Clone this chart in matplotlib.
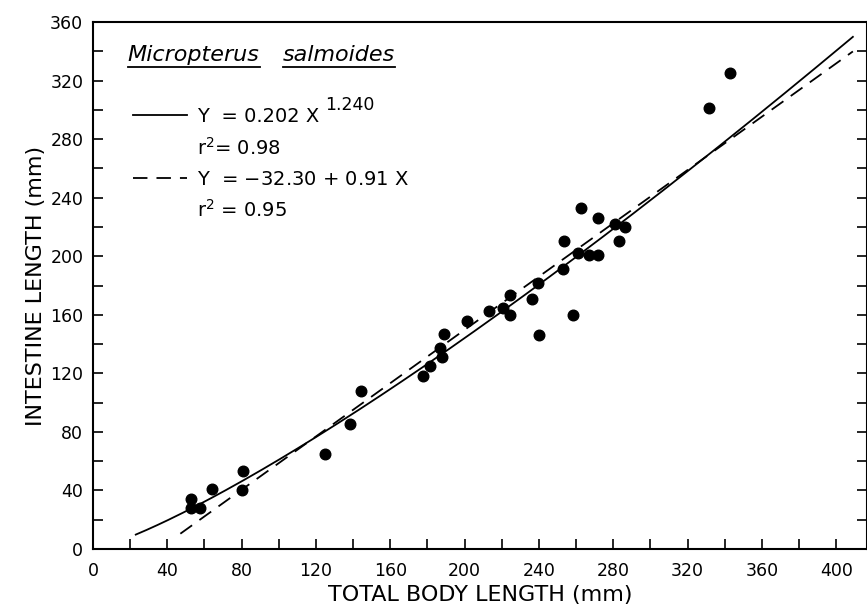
import matplotlib
matplotlib.use("Agg")
import matplotlib.pyplot as plt
from matplotlib.lines import Line2D
import numpy as np

# body length (mm) and intestine length (mm)
body_len = [52.8, 52.8, 57.8, 63.9, 80.0, 80.9, 124.9, 138.3, 144.5,
            177.8, 181.4, 186.8, 187.7, 189.1, 201.1, 213.3, 220.9, 224.2,
            224.5, 236.4, 239.7, 240.0, 252.8, 253.7, 258.5, 260.9, 262.5,
            267.0, 271.6, 271.8, 281.0, 283.3, 286.3, 331.6, 343.0]
gut_len = [34.0, 27.8, 28.2, 40.8, 40.3, 53.3, 64.7, 85.4, 108.0,
           118.0, 125.0, 137.4, 131.0, 146.6, 155.7, 162.6, 164.8, 160.2,
           173.5, 170.8, 181.9, 146.2, 191.0, 210.7, 160.2, 202.4, 233.1,
           200.8, 200.8, 226.3, 222.1, 210.7, 220.2, 301.1, 325.4]

# fitted lines as printed on the figure
pow_a, pow_b = 0.202, 1.240
lin_a, lin_b = -32.30, 0.91
pow_range = [23, 409]
lin_range = [47, 409]

xticks = np.arange(0, 401, 40)
yticks = np.arange(0, 361, 40)

plt.rcParams['font.family'] = 'DejaVu Sans'
plt.rcParams['mathtext.fontset'] = 'dejavusans'

fig = plt.figure(figsize=(8.67, 6.06), dpi=100)
ax = fig.add_axes([0.1073, 0.094, 0.8927, 0.8697])

xs = np.linspace(pow_range[0], pow_range[1], 200)
ax.plot(xs, pow_a * xs ** pow_b, color='black', lw=1.3)
xl = np.array(lin_range)
ax.plot(xl, lin_a + lin_b * xl, color='black', lw=1.3, linestyle=(0, (8, 5)))

ax.scatter(body_len, gut_len, s=58, color='black', zorder=3)

ax.set_xlim(0, 416.6)
ax.set_ylim(0, 360)
ax.set_xticks(xticks)
ax.set_yticks(yticks)
ax.set_xticks(np.arange(20, 420, 40), minor=True)
ax.set_yticks(np.arange(20, 360, 40), minor=True)
ax.tick_params(which='both', direction='in', length=7, width=1.2, right=True, top=False)
ax.tick_params(axis='both', labelsize=12.5)
ax.tick_params(axis='y', pad=7)
ax.tick_params(axis='x', pad=9)
for s in ax.spines.values():
    s.set_linewidth(1.5)

ax.set_xlabel('TOTAL BODY LENGTH (mm)', fontsize=16, labelpad=4)
ax.set_ylabel('INTESTINE LENGTH (mm)', fontsize=16, labelpad=3)

# legend
handles = [Line2D([], [], color='black', lw=1.3),
           Line2D([], [], color='none'),
           Line2D([], [], color='black', lw=1.3, linestyle=(0, (8, 5))),
           Line2D([], [], color='none')]
labels = ['Y  = 0.202 X', r'r$^{\mathsf{2}}$= 0.98',
          r'Y  = $-$32.30 + 0.91 X', r'r$^{\mathsf{2}}$ = 0.95']
leg = ax.legend(handles, labels, loc='upper left', bbox_to_anchor=(0.041, 0.853),
                frameon=False, fontsize=14, handlelength=2.8, handletextpad=0.5,
                labelspacing=0.55, borderaxespad=0)

t1 = ax.text(0.045, 0.937, 'Micropterus', transform=ax.transAxes, fontsize=16,
             style='italic', va='center', ha='left')
t2 = ax.text(0.245, 0.937, 'salmoides', transform=ax.transAxes, fontsize=16,
             style='italic', va='center', ha='left')

fig.canvas.draw()
r = fig.canvas.get_renderer()
inv = fig.transFigure.inverted()
for t in (t1, t2):
    bb = t.get_window_extent(r)
    (x0, y0), (x1, _) = inv.transform([(bb.x0, bb.y0 - 2), (bb.x1, bb.y0)])
    fig.add_artist(Line2D([x0, x1], [y0, y0], transform=fig.transFigure,
                          color='black', lw=1.3))

# exponent of the power fit, written raised after the first legend label
bb = leg.get_texts()[0].get_window_extent(r)
ex, ey = inv.transform((bb.x1 + 6, bb.y1 + 2))
fig.text(ex, ey, f'{pow_b:.3f}', fontsize=12.5, ha='left', va='center')

fig.savefig('out.png', dpi=100)
